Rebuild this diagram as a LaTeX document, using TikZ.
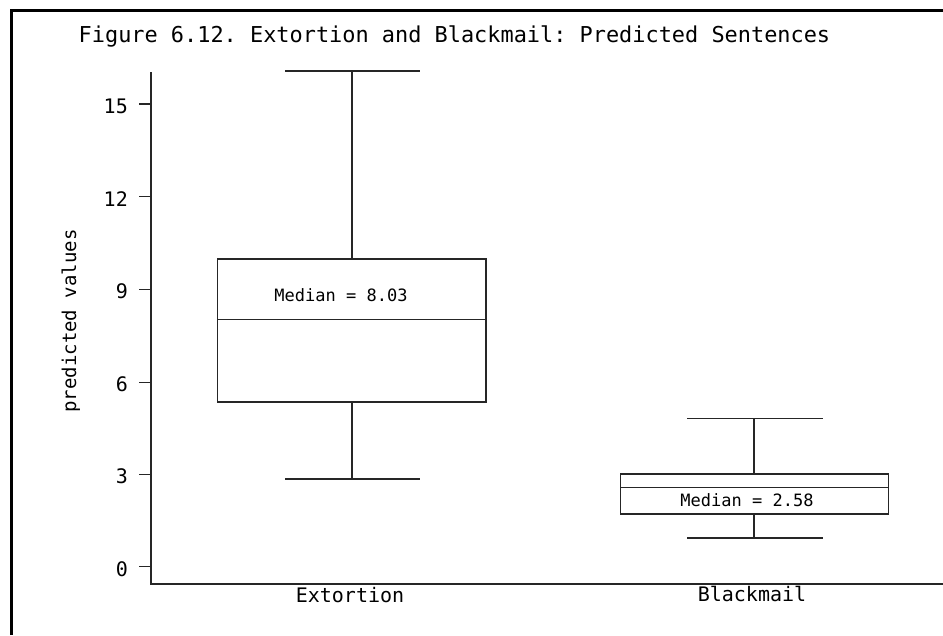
\documentclass[tikz,border=0pt]{standalone}
\usepackage{fontspec}
\setmonofont{DejaVu Sans Mono}
\begin{document}
\begin{tikzpicture}[x=1pt,y=-1pt,
  plotline/.style={draw=black!85,line width=1.1pt},
  framel/.style={draw=black,line width=3pt},
  ticklbl/.style={anchor=base east,inner sep=0pt,font=\ttfamily\fontsize{20}{24}\selectfont},
  catlbl/.style={anchor=base,inner sep=0pt,font=\ttfamily\fontsize{20}{24}\selectfont},
  medlbl/.style={anchor=base,inner sep=0pt,font=\ttfamily\fontsize{17}{20}\selectfont}]
\useasboundingbox (0,0) rectangle (943,635);
\fill[white] (0,0) rectangle (943,635);
% frame
\draw[framel] (11,635) -- (11,10) -- (943,10);
% title
\node[anchor=base west,inner sep=0pt,font=\ttfamily\fontsize{21.9}{26}\selectfont] (title) at (78.5,42.5) {Figure 6.12. Extortion and Blackmail: Predicted Sentences};
% axes
\coordinate (ytop) at (151,72);
\coordinate (orig) at (151,584);
\coordinate (xend) at (943,584);
\draw[plotline] (ytop) -- (orig) -- (xend);
% ticks
\foreach \v/\yy in {0/566.7,3/474.3,6/382.3,9/289.3,12/196.7,15/104} {
  \draw[plotline] (139,\yy) -- (151,\yy);
  \node[ticklbl] (t\v) at (128,\yy+9.5) {\v};
}
\node[anchor=base,rotate=90,inner sep=0pt,font=\ttfamily\fontsize{19}{22}\selectfont] (ylab) at (76,321) {predicted values};
% Extortion box
\draw[plotline] (217.3,259) rectangle (486,402);
\draw[plotline] (217.3,319.7) -- (486,319.7);
\draw[plotline] (352,259) -- (352,71);
\draw[plotline] (285,71) -- (420,71);
\draw[plotline] (352,402) -- (352,479);
\draw[plotline] (285,479) -- (420,479);
\node[medlbl] (m1) at (341,301.7) {Median = 8.03};
% Blackmail box
\draw[plotline] (620.3,474) rectangle (888.3,514);
\draw[plotline] (620.3,487.3) -- (888.3,487.3);
\draw[plotline] (754,474) -- (754,418.3);
\draw[plotline] (687.3,418.3) -- (822.7,418.3);
\draw[plotline] (754,514) -- (754,538);
\draw[plotline] (687.3,538) -- (822.7,538);
\node[medlbl] (m2) at (747,506) {Median = 2.58};
% category labels
\node[catlbl] (c1) at (350,602) {Extortion};
\node[catlbl] (c2) at (752,601) {Blackmail};
\end{tikzpicture}
\end{document}
